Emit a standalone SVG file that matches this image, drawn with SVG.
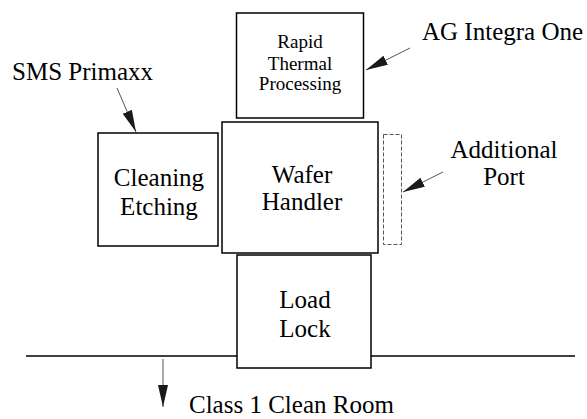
<svg xmlns="http://www.w3.org/2000/svg" width="587" height="419" viewBox="0 0 587 419" font-family="'Liberation Serif', 'Times New Roman', Times, serif">
  <style>
    .box { fill: #ffffff; stroke: #000000; stroke-width: 1.5; }
    .port { fill: none; stroke: #555555; stroke-width: 1; stroke-dasharray: 4 2; }
    .lead { fill: none; stroke: #555555; stroke-width: 1; }
    .floor { fill: none; stroke: #000000; stroke-width: 1.5; }
    text { font-family: 'Liberation Serif', 'Times New Roman', Times, serif; fill: #000000; }
    .big { font-size: 25px; }
    .small { font-size: 19px; }
  </style>
  <defs>
    <marker id="ah" markerUnits="userSpaceOnUse" markerWidth="24" markerHeight="12" refX="22" refY="5" orient="auto">
      <path d="M0,0 L22,5 L0,10 Z" fill="#1a1a1a"/>
    </marker>
  </defs>

  <g id="floor">
    <line class="floor" x1="26" y1="356" x2="575" y2="356"/>
  </g>

  <g id="rtp">
    <rect class="box" x="236.5" y="13" width="127" height="105"/>
    <text class="small" x="300" y="48" text-anchor="middle">Rapid</text>
    <text class="small" x="300" y="70" text-anchor="middle">Thermal</text>
    <text class="small" x="300" y="90" text-anchor="middle">Processing</text>
  </g>

  <g id="cleaning">
    <rect class="box" x="98" y="133" width="120" height="113"/>
    <text class="big" x="159" y="186" text-anchor="middle">Cleaning</text>
    <text class="big" x="159" y="215" text-anchor="middle">Etching</text>
  </g>

  <g id="wafer-handler">
    <rect class="box" x="222" y="122" width="156" height="131"/>
    <text class="big" x="302" y="183" text-anchor="middle">Wafer</text>
    <text class="big" x="302" y="210" text-anchor="middle">Handler</text>
  </g>

  <g id="additional-port-box">
    <rect class="port" x="383.5" y="134.5" width="18" height="110"/>
  </g>

  <g id="load-lock">
    <rect class="box" x="237" y="255" width="134" height="113"/>
    <text class="big" x="305" y="308" text-anchor="middle">Load</text>
    <text class="big" x="305" y="337" text-anchor="middle">Lock</text>
  </g>

  <g id="labels">
    <text class="big" x="12" y="80">SMS Primaxx</text>
    <text class="big" x="422" y="40">AG Integra One</text>
    <text class="big" x="504" y="158" text-anchor="middle">Additional</text>
    <text class="big" x="504" y="185" text-anchor="middle">Port</text>
    <text class="big" x="189" y="413">Class 1 Clean Room</text>
  </g>

  <g id="connectors">
    <line class="lead" x1="117" y1="88" x2="136" y2="132" marker-end="url(#ah)"/>
    <line class="lead" x1="410" y1="48" x2="366" y2="70" marker-end="url(#ah)"/>
    <line class="lead" x1="443" y1="172" x2="403" y2="192" marker-end="url(#ah)"/>
    <line class="lead" x1="163" y1="359" x2="163" y2="407" marker-end="url(#ah)"/>
  </g>
</svg>
